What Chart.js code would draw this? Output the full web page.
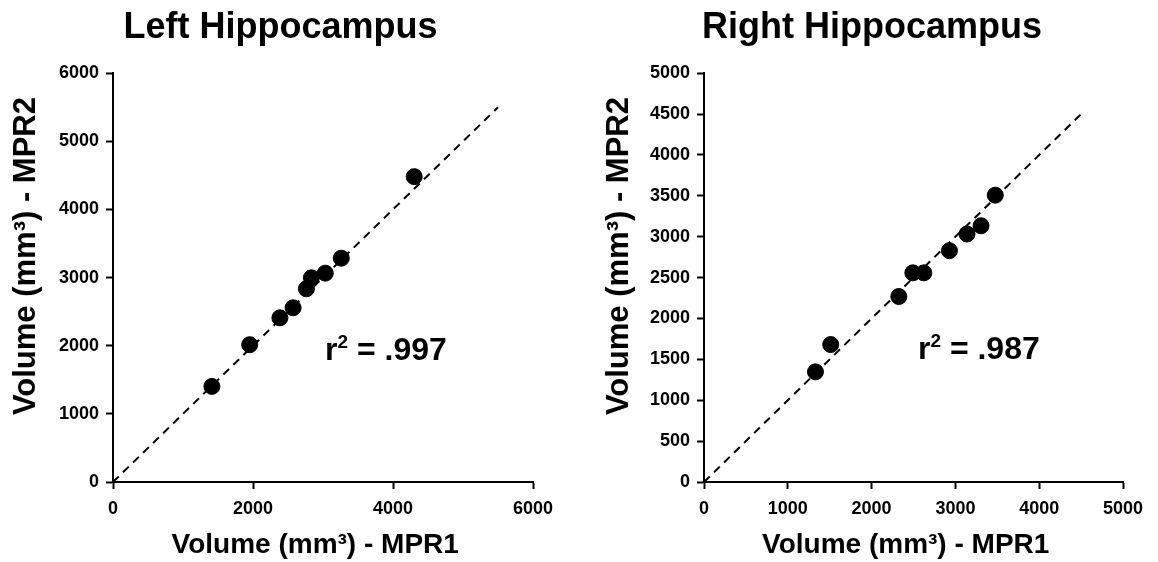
<!DOCTYPE html>
<html>
<head>
<meta charset="utf-8">
<script src="https://cdn.jsdelivr.net/npm/chart.js@4.4.1/dist/chart.umd.min.js"></script>
<style>
  html, body { margin: 0; padding: 0; background: #fff; }
  .wrap { display: flex; width: 1158px; height: 562px; }
  .box { position: relative; width: 579px; height: 562px; }
</style>
</head>
<body>
<div class="wrap">
  <div class="box"><canvas id="leftChart"></canvas></div>
  <div class="box"><canvas id="rightChart"></canvas></div>
</div>
<script>
// hippocampus volumes, MPR1 vs MPR2 (mm3)

var leftMPR1 = [1413, 1953, 2384, 2573, 2763, 2834, 3033, 3261, 4303];
var leftMPR2 = [1403, 2015, 2410, 2557, 2836, 2997, 3065, 3285, 4482];
var rightMPR1 = [1330, 1512, 2325, 2492, 2623, 2929, 3139, 3306, 3476];
var rightMPR2 = [1347, 1681, 2269, 2558, 2558, 2829, 3033, 3134, 3508];

var leftIdentity = [0, 5500];
var rightIdentity = [0, 4500];

var leftR2 = '.997';
var rightR2 = '.987';

var FONT = 'Arial, "Liberation Sans", sans-serif';
var NB = '\u00a0';
Chart.defaults.font.family = FONT;
Chart.defaults.color = '#000';

function pts(xs, ys) {
    return xs.map(function (x, i) { return { x: x, y: ys[i] }; });
}

// r^2 label drawn in data coords
var r2Label = {
    id: 'r2Label',
    afterDatasetsDraw: function (chart, args, opts) {
        var ctx = chart.ctx;
        var x = chart.scales.x.getPixelForValue(opts.x);
        var y = chart.scales.y.getPixelForValue(opts.y);
        var big = 'bold 32px ' + FONT;
        var small = 'bold 19px ' + FONT;
        ctx.save();
        ctx.fillStyle = '#000';
        ctx.textBaseline = 'alphabetic';
        ctx.textAlign = 'left';
        ctx.font = big;
        var w1 = ctx.measureText('r').width;
        var rest = ' = ' + opts.text;
        var w3 = ctx.measureText(rest).width;
        ctx.font = small;
        var w2 = ctx.measureText('2').width;
        var start = x - (w1 + w2 + w3) / 2;
        ctx.font = big;
        ctx.fillText('r', start, y + 11);
        ctx.fillText(rest, start + w1 + w2, y + 11);
        ctx.font = small;
        ctx.fillText('2', start + w1, y - 1);
        ctx.restore();
    }
};

function makeChart(id, title, xs, ys, line, max, xStep, yStep, r2, r2pos, pad, yWidth, xTitle) {
    return new Chart(id, {
        type: 'scatter',
        data: {
            datasets: [{
                type: 'line',
                data: pts(line, line),
                borderColor: '#000',
                borderWidth: 2,
                borderDash: [8, 6],
                pointRadius: 0,
                fill: false
            }, {
                data: pts(xs, ys),
                backgroundColor: '#000',
                borderColor: '#000',
                pointRadius: 8,
                pointHoverRadius: 8
            }]
        },
        options: {
            responsive: true,
            maintainAspectRatio: false,
            animation: false,
            layout: { padding: pad },
            plugins: {
                legend: { display: false },
                tooltip: { enabled: false },
                title: {
                    display: true,
                    text: title,
                    font: { size: 36, weight: 'bold' },
                    padding: { top: 6, bottom: 24 }
                },
                r2Label: { x: r2pos[0], y: r2pos[1], text: r2 }
            },
            scales: {
                x: {
                    type: 'linear',
                    min: 0,
                    max: max,
                    grid: { drawOnChartArea: false, color: '#000', tickLength: 7, tickWidth: 2 },
                    border: { color: '#000', width: 2 },
                    ticks: {
                        stepSize: xStep,
                        font: { size: 18, weight: 'bold' },
                        padding: 9,
                        maxRotation: 0,
                        callback: function (v) { return String(v); }
                    },
                    title: {
                        display: true,
                        text: xTitle,
                        font: { size: 28, weight: 'bold' },
                        padding: { top: 0, bottom: 0 }
                    },
                    afterFit: function (s) { s.height = 80; }
                },
                y: {
                    type: 'linear',
                    min: 0,
                    max: max,
                    grid: { drawOnChartArea: false, color: '#000', tickLength: 7, tickWidth: 2 },
                    border: { color: '#000', width: 2 },
                    ticks: {
                        stepSize: yStep,
                        font: { size: 18, weight: 'bold' },
                        padding: 7,
                        callback: function (v) { return String(v); }
                    },
                    title: {
                        display: true,
                        text: NB.repeat(5) + 'Volume (mm\u00b3) - MPR2',
                        font: { size: 31, weight: 'bold' },
                        padding: { top: -20, bottom: 0 }
                    },
                    afterFit: function (s) { s.width = yWidth; }
                }
            }
        },
        plugins: [r2Label]
    });
}

makeChart('leftChart', 'Left Hippocampus', leftMPR1, leftMPR2, leftIdentity,
    6000, 2000, 1000, leftR2, [3900, 1950], { left: 28, right: 46, top: 0, bottom: 0 }, 85,
    'Volume (mm\u00b3) - MPR1' + NB.repeat(2));

makeChart('rightChart', 'Right Hippocampus', rightMPR1, rightMPR2, rightIdentity,
    5000, 1000, 500, rightR2, [3280, 1640], { left: 42, right: 35, top: 0, bottom: 0 }, 83,
    'Volume (mm\u00b3) - MPR1' + NB.repeat(2));
</script>
</body>
</html>
